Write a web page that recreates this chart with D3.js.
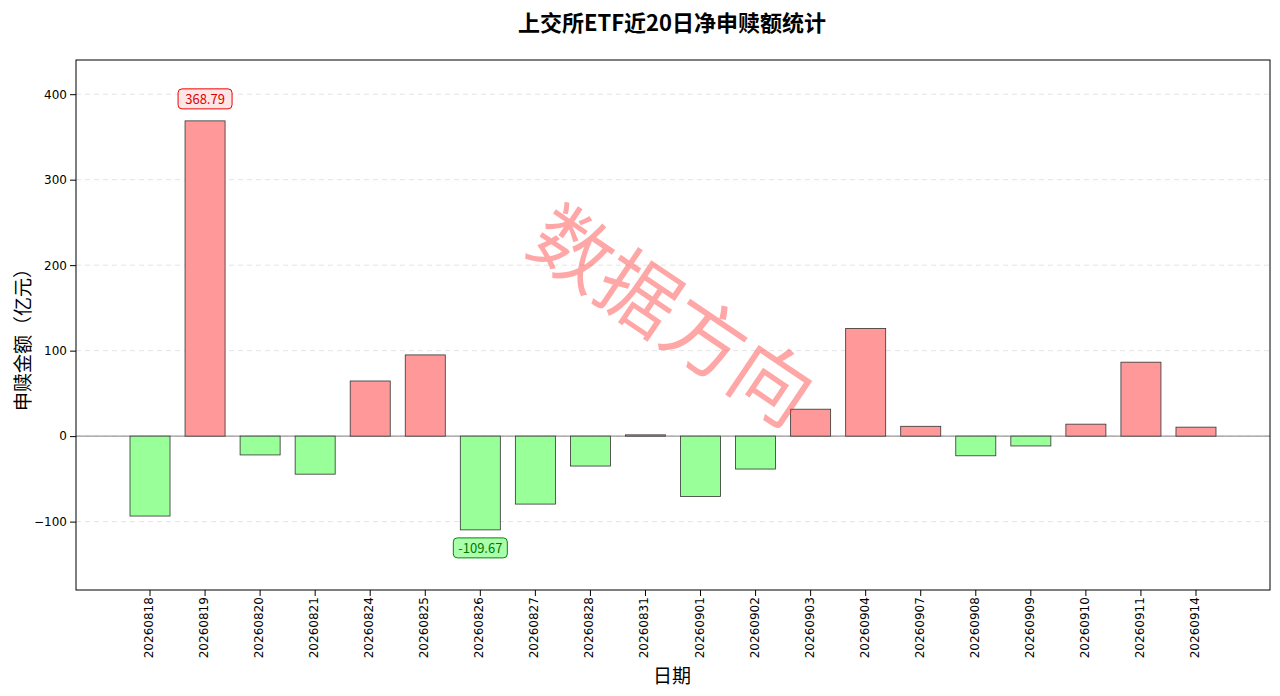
<!DOCTYPE html><html><head><meta charset="utf-8">
<script src="https://cdn.jsdelivr.net/npm/d3@7"></script>
<style>body{margin:0;background:#fff}text{font-family:"Noto Sans CJK SC","DejaVu Sans",sans-serif}</style></head><body>
<svg id="c" width="1280" height="696"></svg>
<script>
const dates=["20260818","20260819","20260820","20260821","20260824","20260825","20260826","20260827","20260828","20260831","20260901","20260902","20260903","20260904","20260907","20260908","20260909","20260910","20260911","20260914"];
const values=[-93.5,368.79,-22,-44.5,64.5,95,-109.67,-79.5,-35,1.5,-70.5,-38.5,31.5,126,11.5,-23,-11.5,14,86.5,10.5];
const yTicks=[-100,0,100,200,300,400];
const svg=d3.select("#c");
const L=76,R=1270,T=60,B=590;
const x=d3.scaleBand().domain(dates).range([130,1216]).paddingInner(0.273).paddingOuter(0);
const y=d3.scaleLinear().domain([-180,440]).range([B,T]);
const g=svg.append("g");
yTicks.forEach(t=>g.append("line").attr("x1",L).attr("x2",R).attr("y1",y(t)).attr("y2",y(t)).attr("stroke","#ddd").attr("stroke-dasharray","5,4").attr("stroke-width",0.8));
g.append("line").attr("x1",L).attr("x2",R).attr("y1",y(0)).attr("y2",y(0)).attr("stroke","#999").attr("stroke-width",1.2);
g.selectAll("rect.b").data(dates).join("rect").attr("x",d=>x(d)).attr("width",x.bandwidth())
 .attr("y",(d,i)=>y(Math.max(0,values[i]))).attr("height",(d,i)=>Math.abs(y(values[i])-y(0)))
 .attr("fill",(d,i)=>values[i]>=0?"#ff9999":"#99ff99").attr("stroke","#333").attr("stroke-width",0.8);
const yAx=svg.append("g").attr("transform",`translate(${L},0)`).call(d3.axisLeft(y).tickValues(yTicks).tickSizeOuter(0));
const xAx=svg.append("g").attr("transform",`translate(0,${B})`).call(d3.axisBottom(x).tickSizeOuter(0));
xAx.selectAll("text").attr("transform","rotate(-90)").attr("text-anchor","end").attr("dx","-0.6em").attr("dy","-0.5em").style("font-size","12px").style("font-family","DejaVu Sans");
yAx.selectAll("text").style("font-size","12px").style("font-family","DejaVu Sans");
svg.selectAll(".domain").remove();
svg.append("rect").attr("x",L).attr("y",T).attr("width",R-L).attr("height",B-T).attr("fill","none").attr("stroke","#000");
const iMax=values.indexOf(d3.max(values)),iMin=values.indexOf(d3.min(values));
function ann(i,yy,fill,stroke,col){const cx=x(dates[i])+x.bandwidth()/2;const t=values[i].toFixed(2);
 svg.append("rect").attr("x",cx-27).attr("y",yy-10).attr("width",54).attr("height",20).attr("rx",4).attr("fill",fill).attr("stroke",stroke);
 svg.append("text").attr("x",cx).attr("y",yy+5).attr("text-anchor","middle").attr("fill",col).style("font-size","13px").text(t);}
ann(iMax,y(values[iMax])-22,"#ffe6e6","#e00","#d00");
ann(iMin,y(values[iMin])+18,"#aaffaa","#080","#070");
svg.append("text").attr("x",672).attr("y",31).attr("text-anchor","middle").style("font-size","22px").style("font-weight","bold").text("上交所ETF近20日净申赎额统计");
svg.append("text").attr("x",672).attr("y",683).attr("text-anchor","middle").style("font-size","19px").text("日期");
svg.append("text").attr("transform","translate(30,335) rotate(-90)").attr("text-anchor","middle").style("font-size","19px").text("申赎金额（亿元）");
svg.append("text").attr("transform","translate(668,322) rotate(34)").attr("text-anchor","middle").attr("dominant-baseline","middle").attr("fill","rgba(255,60,60,0.45)").style("font-size","80px").text("数据方向");
</script></body></html>
